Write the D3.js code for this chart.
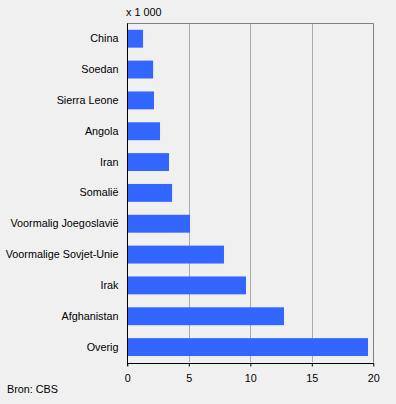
<!DOCTYPE html>
<html><head><meta charset="utf-8">
<script src="https://cdn.jsdelivr.net/npm/d3@7"></script>
<style>
html,body{margin:0;padding:0;background:#f0f0f0;}
svg{display:block;font-family:Arial,"Liberation Sans",sans-serif;}
</style></head>
<body>
<svg id="c" width="396" height="404"></svg>
<script>
const categories = ["China","Soedan","Sierra Leone","Angola","Iran","Somalië","Voormalig Joegoslavië","Voormalige Sovjet-Unie","Irak","Afghanistan","Overig"];
const values = [1.28, 2.1, 2.17, 2.66, 3.39, 3.64, 5.1, 7.86, 9.65, 12.74, 19.57];
const xTicks = [0, 5, 10, 15, 20];
const unitLabel = "x 1 000";
const sourceLabel = "Bron: CBS";

const svg = d3.select("#c");
const L = 127.3, R = 373.3, T = 23.3, B = 362.5;
const FS = 10.8;
svg.append("rect").attr("width",396).attr("height",404).attr("fill","#f0f0f0");

const x = d3.scaleLinear().domain([0,20]).range([L,R]);
const y = d3.scaleBand().domain(categories).range([T,B]).paddingInner(0.42).paddingOuter(0.21);

// grid
svg.append("g").selectAll("line").data(xTicks.filter(t=>t>0&&t<20)).join("line")
  .attr("x1",d=>Math.round(x(d))+0.5).attr("x2",d=>Math.round(x(d))+0.5)
  .attr("y1",T).attr("y2",B).attr("stroke","#aaaaaa").attr("stroke-width",1);

// frame top/right
svg.append("line").attr("x1",L).attr("x2",Math.round(R)+0.5).attr("y1",Math.round(T)+0.5).attr("y2",Math.round(T)+0.5).attr("stroke","#808080");
svg.append("line").attr("x1",Math.round(R)+0.5).attr("x2",Math.round(R)+0.5).attr("y1",T).attr("y2",B).attr("stroke","#808080");

// bars
svg.append("g").selectAll("rect").data(values).join("rect")
  .attr("x",x(0)).attr("y",(d,i)=>y(categories[i]))
  .attr("width",d=>x(d)-x(0)).attr("height",y.bandwidth())
  .attr("fill","#3366ff");

// x axis
const xAxis = d3.axisBottom(x).tickValues(xTicks).tickSize(3).tickPadding(8).tickFormat(d3.format("d"));
const gx = svg.append("g").attr("transform",`translate(0,${Math.round(B)+0.5})`).call(xAxis);
gx.select(".domain").attr("stroke","#000").attr("d",`M${Math.round(L)},0H${Math.round(R)+1}`);
gx.selectAll(".tick line").attr("stroke","#000");
gx.selectAll("text").attr("font-size",FS).attr("fill","#000").attr("font-family","Arial,'Liberation Sans',sans-serif");

// y axis
const yAxis = d3.axisLeft(y).tickSize(0).tickPadding(9);
const gy = svg.append("g").attr("transform",`translate(${Math.round(L)+0.5},0)`).call(yAxis);
gy.select(".domain").attr("stroke","#000").attr("d",`M0,${T}V${Math.round(B)+3}`);
gy.selectAll("text").attr("font-size",FS).attr("fill","#000").attr("font-family","Arial,'Liberation Sans',sans-serif");

svg.append("text").attr("x",126).attr("y",16).attr("font-size",FS).text(unitLabel);
svg.append("text").attr("x",7).attr("y",393).attr("font-size",FS).text(sourceLabel);
</script>
</body></html>
